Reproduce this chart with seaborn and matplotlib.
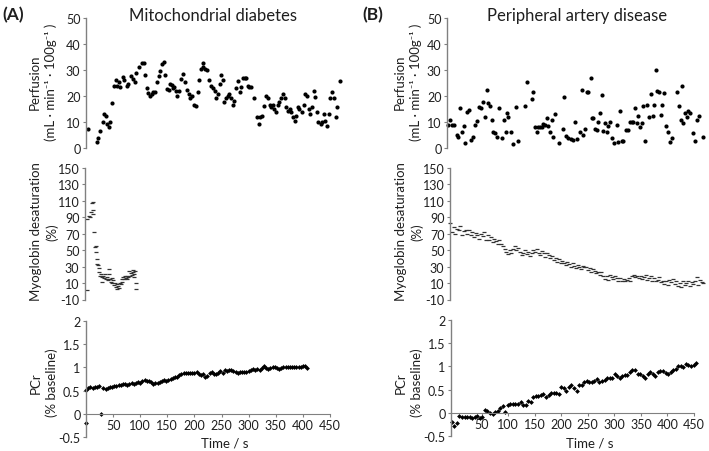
import numpy as np
import matplotlib
matplotlib.use('Agg')
import matplotlib.pyplot as plt
import seaborn as sns

sns.set_style('ticks')
plt.rcParams['font.family'] = ['Lato', 'DejaVu Sans']
plt.rcParams['axes.unicode_minus'] = False

# ---- (A) Mitochondrial diabetes ----
perf_t_A = [4,20,23,26,31,33,37,39,42,44,47,52,55,57,60,63,68,70,75,78,82,86,90,93,98,103,106,109,112,115,
            118,121,124,127,130,134,136,140,143,146,149,152,155,158,160,162,166,168,172,175,178,183,186,189,192,195,199,202,206,209,
            212,215,216,219,222,227,230,234,237,240,243,246,248,252,255,258,261,264,267,270,273,277,280,283,286,289,292,295,298,301,
            304,309,315,318,321,324,328,332,335,338,341,344,347,350,353,356,360,363,366,369,372,375,378,381,384,387,390,393,398,401,
            404,407,410,413,416,420,422,425,428,432,434,438,441,444,447,450,453,457,460,463,467]
perf_v_A = [7.3,2.4,3.7,6.7,10.1,13,12.2,9.2,8,10,17.3,23.7,26,24,25.3,23.3,27.4,26.3,23.7,24.6,
            27.6,26.5,25.3,28.8,31,32.7,32.7,28,23,21.2,20.1,20.8,21.4,21.7,25.5,27.8,29.7,32.3,33.2,28,
            22.7,22.4,24.6,24.2,23,23.3,22,20.1,22,26.5,28.5,25.3,22.4,20.8,19.1,19.9,16.5,16.3,21.7,26.3,
            30.4,32.7,31,30.4,30.1,26.3,23.7,23,22,19.1,20.8,24.6,28,26.3,17.6,19.1,19.9,20.8,19.1,16.5,
            18.2,23,25.9,21.7,23.3,26.8,26.8,26.8,24,23.3,23.3,19.1,11.8,9.2,11.8,12.4,16.3,20.1,19.1,16.5,
            15.6,16.5,15,14,16.5,17.8,19.1,20.8,19.1,15.6,14.4,15,14,11.8,10.5,12.4,15.6,15.1,14,16.5,
            20.8,20.1,15.1,13.1,15.6,22,19.5,14,9.9,9.2,10.1,13.1,10.5,8.3,13.1,19.1,21.4,19.1,11.8,15.6,25.9]

myo_t_A = [2.4,2.4,5.5,7.4,9.2,10.5,12.3,12.3,13.5,15.3,16,17.8,18.4,19.7,20.8,22.7,24,24.5,25.8,27,
           28.9,30,31.9,33.1,35,36.3,38.1,40,41.1,42.9,42.9,44.2,45.5,47.3,48.4,50.3,51.6,53.4,54.7,56.5,
           57.6,59.5,60.8,62.6,63.9,65.7,66.9,68.7,70,71.8,73.1,75,76.1,77.9,79.2,81,82.3,84.2,86,87.1,
           88.4,90.2,89,92,92]
myo_v_A = [1,88,91.3,90,96,108,109,99.4,94,72,53.7,55,48.4,39.5,33.4,32.2,28.2,23.3,19.2,21.3,
           17.3,11.9,19.2,16.1,21.3,15.2,17.3,14.4,13.2,21.3,27.4,15.2,11.9,16.1,10.4,13.2,8,10.4,5.1,9.1,
           3,7,3.9,10.4,9.1,14.4,11.2,17.3,15.2,18.5,16.1,14.4,19.2,17.3,24.1,18.5,22.5,20.1,23.3,25.3,
           21.3,24.1,17.3,10.4,3]

# PCr sampled every 4 s from 0 to 408 s
pcr_v_A = [0.52,0.56,0.58,0.56,0.57,0.58,0.59,0.00,0.56,0.54,0.56,0.58,0.58,0.60,0.60,0.61,0.62,0.64,0.64,0.63,
           0.65,0.66,0.64,0.66,0.69,0.66,0.70,0.72,0.70,0.70,0.68,0.64,0.66,0.67,0.68,0.70,0.72,0.70,0.72,0.75,
           0.77,0.80,0.80,0.83,0.85,0.87,0.88,0.88,0.89,0.89,0.89,0.91,0.86,0.84,0.86,0.80,0.82,0.87,0.90,0.86,
           0.86,0.88,0.92,0.88,0.94,0.92,0.95,0.94,0.92,0.90,0.89,0.90,0.90,0.90,0.91,0.92,0.94,0.96,0.95,0.97,
           0.95,0.98,1.03,0.98,0.97,0.98,1.00,1.01,0.99,0.96,0.98,1.00,1.01,1.01,1.01,1.01,1.00,1.01,1.00,1.00,
           1.02,1.04,0.99]
pcr_t_A = np.linspace(0, 408, len(pcr_v_A))
pcr_out_t_A = [0]
pcr_out_v_A = [-0.2]

# ---- (B) Peripheral artery disease ----
perf_t_B = [-12.6,-9.4,-6.3,-1.3,3.1,6.3,9.4,12.6,16.9,19.5,23.2,26.4,29.5,34.5,37.7,42.1,45.8,49.6,53.4,56.5,
            59.6,62.8,65.9,69.1,72.2,75.3,79.7,83.5,87.9,92.3,95.4,98.6,100.4,104.8,109.9,114.9,118,131.8,135,144.4,
            147.5,150.7,153.8,156.9,160.1,163.2,166.4,169.5,172.6,175.8,178.9,182,185.2,188.3,195.9,202.8,205.9,209,213.4,217.8,
            221.6,226,230.4,235.4,238.5,241.7,244.8,248,251.1,255.5,257.4,260.5,263.7,266.8,269.9,273.1,276.2,279.3,282.5,285.6,
            288.8,291.9,295,299.4,304.5,307.6,310.7,313.9,317,322,325.2,329.6,332.7,335.8,339,342.1,345.3,348.4,351.5,354.7,
            357.8,362.2,366,368.5,372.3,374.8,378.5,381,384.2,387.3,390.5,393.6,397.4,400.5,404.9,408,417.5,422.5,425,426.9,
            430,433.1,436.3,439.4,442.6,448.8,452,456.4,459.5,466.4]
perf_v_B = [8.8,10.9,8.8,8.8,5,4.4,15.3,6.3,8.3,1.8,14,14.7,3.2,4.1,8.8,10.5,15.6,15.3,17.6,11.8,
            22.4,17.3,16.3,10.9,6.3,5.8,4.1,15.3,3.7,10.9,6.3,13.5,11.8,6.3,1.5,15.6,2.8,16.3,25.3,18.8,
            21.7,7.9,6.3,7.9,7.9,7.9,9.2,8.8,11.4,8.6,6,10.9,4.1,13.1,1.9,7.3,19.5,4.5,3.7,3.5,
            3.2,9.9,3.5,6.3,22.4,5,7.3,21.4,21.7,26.8,11.4,11.4,7.3,7,9.9,13.5,20.4,6.7,9.6,6.3,
            8.6,10.1,3.7,1.9,8.8,2.4,14.4,2.8,2.8,7,7,10.1,10.1,10.1,15.3,9.6,12.4,7.9,9.6,16,
            2.8,16.5,11.8,20.8,12.4,16.5,30.1,22,21.4,12.7,16.5,21.2,8.3,6.3,2.4,3.7,21.7,16,10.9,23.7,
            9.6,13.5,11.8,14.4,13.5,5.8,2.8,10.9,12.2,4.1]

myo_v_B = [83,72,78,70,76,74,80,69,73,75, 70,74,68,72,66,71,69,64,70,67,
           72,63,68,62,66,60,64,61,58,62, 57,55,52,48,45,50,47,52,55,50,
           53,48,44,47,50,45,48,43,46,50, 48,51,46,44,49,47,42,46,44,40,
           43,38,41,36,39,34,37,35,32,36, 33,30,35,31,28,32,30,27,31,29,
           30,26,28,24,27,25,22,24,20,23, 19,15,18,14,20,17,15,18,16,13,
           16,13,15,12,14,16,13,18,20,17, 19,16,18,15,17,20,14,16,18,13,
           16,12,14,17,11,13,9,12,8,14, 11,15,9,13,7,10,5,12,8,10,
           13,7,11,9,12,17,8,14,11,10]
myo_t_B = np.linspace(-9, 467.8, len(myo_v_B))

pcr_v_B = [-0.20,-0.29,-0.21,-0.07,-0.09,-0.10,-0.09,-0.09,-0.11,-0.10,-0.07,-0.12,-0.09,
           0.05,0.03,0.00,-0.02,0.01,0.03,0.10,0.14,0.01,0.17,
           0.19,0.19,0.19,0.19,0.23,0.17,0.16,0.26,0.24,0.34,
           0.36,0.36,0.39,0.41,0.34,0.39,0.43,0.43,0.43,0.41,
           0.55,0.53,0.46,0.55,0.60,0.53,0.48,0.59,0.60,0.66,
           0.69,0.67,0.67,0.69,0.73,0.67,0.69,0.71,0.74,0.76,
           0.76,0.84,0.79,0.76,0.79,0.81,0.81,0.87,0.92,0.92,
           0.84,0.84,0.79,0.76,0.84,0.87,0.84,0.79,0.87,0.90,
           0.90,0.86,0.84,0.89,0.93,0.94,1.01,1.00,0.98,1.05,
           1.03,1.00,1.03,1.07]
pcr_t_B = np.linspace(-6, 454, len(pcr_v_B))

perf_ticks = [0, 10, 20, 30, 40, 50]
myo_ticks = [-10, 10, 30, 50, 70, 90, 110, 130, 150]
pcr_ticks = [-0.5, 0, 0.5, 1, 1.5, 2]
time_ticks = [50, 100, 150, 200, 250, 300, 350, 400, 450]

W, H = 709, 452
fig = plt.figure(figsize=(W / 100, H / 100), dpi=100)
SPINE = '#808080'
TXT = '#1f1f1f'


def place(l, r, t, b):
    return fig.add_axes([l / W, 1 - b / H, (r - l) / W, (b - t) / H])


def style(ax, yticks, ylim, xlim, xaxis=False):
    ax.set_xlim(*xlim)
    ax.set_ylim(*ylim)
    ax.set_yticks(yticks)
    ax.set_yticklabels(['{:g}'.format(v) for v in yticks])
    for s in ['top', 'right']:
        ax.spines[s].set_visible(False)
    ax.spines['left'].set_color(SPINE)
    ax.spines['left'].set_linewidth(1.0)
    ax.tick_params(axis='y', direction='out', length=2.5, width=0.8, color=SPINE,
                   labelsize=9, labelcolor=TXT, pad=1.5)
    if xaxis:
        ax.spines['bottom'].set_position(('data', 0))
        ax.spines['bottom'].set_color(SPINE)
        ax.set_xticks(time_ticks)
        ax.set_xticklabels([str(v) for v in time_ticks])
        ax.tick_params(axis='x', direction='out', length=2.5, width=0.8, color=SPINE,
                       labelsize=9, labelcolor=TXT, pad=1)
    else:
        ax.spines['bottom'].set_visible(False)
        ax.set_xticks([])
    ax.set_xlabel('')
    ax.set_ylabel('')


def dots(ax, x, y):
    sns.scatterplot(x=x, y=y, ax=ax, color='black', marker='o', s=9, linewidth=0, clip_on=False)


def dashes(ax, x, y):
    sns.scatterplot(x=x, y=y, ax=ax, color='#333333', marker='_', s=5, linewidth=0.9, clip_on=False)


def diamonds(ax, x, y):
    sns.scatterplot(x=x, y=y, ax=ax, color='black', marker='D', s=6, linewidth=0, clip_on=False)


# panel A axes
pA = place(86, 345, 19, 149)
dots(pA, perf_t_A, perf_v_A)
style(pA, perf_ticks, (0, 50), (0, 477))

mA = place(85, 345, 169, 300.5)
dashes(mA, myo_t_A, myo_v_A)
style(mA, myo_ticks, (-10, 150), (-1.8, 477))

cA = place(86, 330, 322, 438)
diamonds(cA, pcr_t_A, pcr_v_A)
diamonds(cA, pcr_out_t_A, pcr_out_v_A)
style(cA, pcr_ticks, (-0.5, 2), (0, 450), xaxis=True)

# panel B axes
pB = place(447, 709, 19, 149)
dots(pB, perf_t_B, perf_v_B)
style(pB, perf_ticks, (0, 50), (-15.1, 478.3))

mB = place(450, 709, 169, 300.5)
dashes(mB, myo_t_B, myo_v_B)
style(mB, myo_ticks, (-10, 150), (-9.4, 478.3))

cB = place(451, 694, 321, 437)
diamonds(cB, pcr_t_B, pcr_v_B)
style(cB, pcr_ticks, (-0.5, 2), (-7.5, 450), xaxis=True)


def ftext(x, y, s, **kw):
    fig.text(x / W, 1 - y / H, s, color=TXT, **kw)


perf_label = 'Perfusion\n(mL \u00b7 min\u207b\u00b9 \u00b7 100g\u207b\u00b9 )'
myo_label = 'Myoglobin desaturation\n(%)'
pcr_label = 'PCr\n(% baseline)'
lab = dict(rotation=90, ha='center', va='center', multialignment='center', fontsize=9.5, linespacing=1.4)
for cx in (43, 408):
    ftext(cx, 82, perf_label, **lab)
    ftext(cx + 1, 232, myo_label, **lab)
    ftext(cx + 1, 383, pcr_label, **lab)

ftext(213, 16, 'Mitochondrial diabetes', ha='center', va='center', fontsize=12)
ftext(577, 16, 'Peripheral artery disease', ha='center', va='center', fontsize=12)
ftext(2, 15, '(A)', ha='left', va='center', fontsize=12.5, fontweight='bold')
ftext(362, 15, '(B)', ha='left', va='center', fontsize=12.5, fontweight='bold')
ftext(225, 444, 'Time / s', ha='center', va='center', fontsize=9.5)
ftext(590, 444, 'Time / s', ha='center', va='center', fontsize=9.5)

fig.savefig('out.png', dpi=100)
